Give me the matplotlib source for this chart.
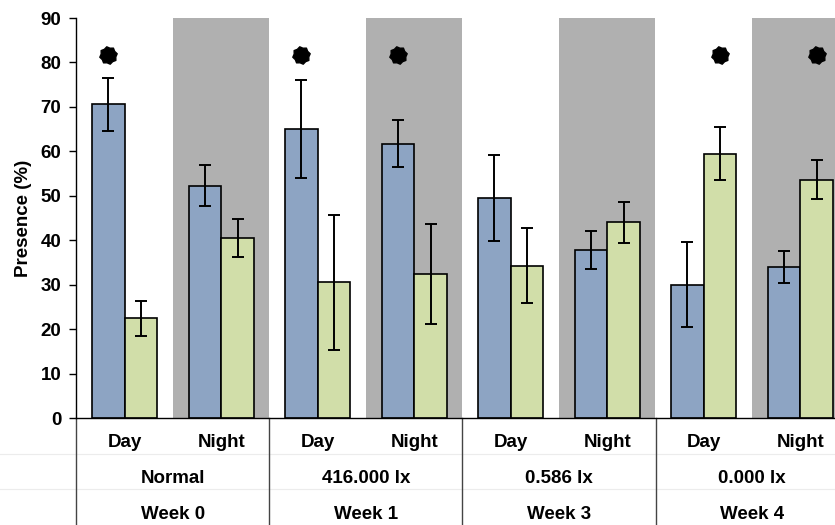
import numpy as np
import matplotlib.pyplot as plt
from matplotlib.path import Path

plt.rcParams['font.family'] = ['Liberation Sans', 'DejaVu Sans']
plt.rcParams['font.weight'] = 'bold'

periods = ['Day', 'Night', 'Day', 'Night', 'Day', 'Night', 'Day', 'Night']
conditions = ['Normal', '416.000 lx', '0.586 lx', '0.000 lx']
weeks = ['Week 0', 'Week 1', 'Week 3', 'Week 4']

blue_vals = [70.6, 52.3, 65.0, 61.7, 49.5, 37.8, 30.0, 34.0]
blue_err = [6.0, 4.6, 11.0, 5.3, 9.7, 4.2, 9.6, 3.6]
green_vals = [22.4, 40.5, 30.5, 32.4, 34.3, 44.0, 59.5, 53.6]
green_err = [4.0, 4.3, 15.2, 11.3, 8.4, 4.6, 5.9, 4.4]

# significance marks: (slot, series) 0 = blue, 1 = green
stars = [(0, 0), (2, 0), (3, 0), (6, 1), (7, 1)]
star_y = 81.6

blue_col = '#8da4c3'
green_col = '#d1dea9'
shade_col = '#b0b0b0'

fig = plt.figure(figsize=(8.35, 5.25), dpi=100)
ax = fig.add_axes([0.0916, 0.2038, 1.0 - 0.0916, 0.7619])

x = np.arange(len(periods))
w = 0.337

for i in range(len(periods)):
    if i % 2 == 1:
        ax.axvspan(i - 0.5, i + 0.49, color=shade_col, zorder=0, lw=0)

ekw = dict(ecolor='black', elinewidth=1.4, capsize=4, capthick=1.4)
ax.bar(x - w / 2, blue_vals, w, color=blue_col, edgecolor='black', linewidth=1.2,
       yerr=blue_err, error_kw=ekw, zorder=2)
ax.bar(x + w / 2, green_vals, w, color=green_col, edgecolor='black', linewidth=1.2,
       yerr=green_err, error_kw=ekw, zorder=2)

# star marker (8-point seal)
ang = np.linspace(0, 2 * np.pi, 17)[:-1] + np.pi / 16
rad = np.where(np.arange(16) % 2 == 0, 1.0, 0.84)
verts = np.column_stack([rad * np.cos(ang), rad * np.sin(ang)])
verts = np.vstack([verts, verts[:1]])
codes = [Path.MOVETO] + [Path.LINETO] * 15 + [Path.CLOSEPOLY]
seal = Path(verts, codes)
for s, k in stars:
    xs = s - w / 2 if k == 0 else s + w / 2
    ax.plot(xs, star_y, marker=seal, markersize=12.5, color='black', zorder=3)

ax.set_xlim(-0.5, 7.36)
ax.set_ylim(0, 90)
ax.set_yticks(range(0, 91, 10))
ax.tick_params(axis='y', labelsize=13.5, direction='out', length=5, width=1, pad=6)
ax.set_xticks([])
ax.spines['top'].set_visible(False)
ax.spines['right'].set_visible(False)
ax.spines['left'].set_linewidth(1)
ax.spines['bottom'].set_linewidth(1)
ax.set_ylabel('Presence (%)', fontsize=13.5, fontweight='bold')
ax.yaxis.set_label_coords(-0.058, 0.5)

# category labels below the axis
trans = ax.get_xaxis_transform()
for i, p in enumerate(periods):
    ax.text(i, -0.06, p, transform=trans, ha='center', va='center', fontsize=13.5)
for j in range(len(conditions)):
    ax.text(2 * j + 0.5, -0.15, conditions[j], transform=trans, ha='center',
            va='center', fontsize=13.5)
    ax.text(2 * j + 0.5, -0.24, weeks[j], transform=trans, ha='center',
            va='center', fontsize=13.5)

for yy in [-0.09, -0.1775]:
    ax.plot([-1.3, 7.4], [yy, yy], transform=trans, color='#ececec', lw=0.8,
            clip_on=False)
for xb in [-0.5, 1.5, 3.5, 5.5]:
    ax.plot([xb, xb], [0, -0.28], transform=trans, color='#444444', lw=1,
            clip_on=False)

fig.savefig('out.png', dpi=100)
